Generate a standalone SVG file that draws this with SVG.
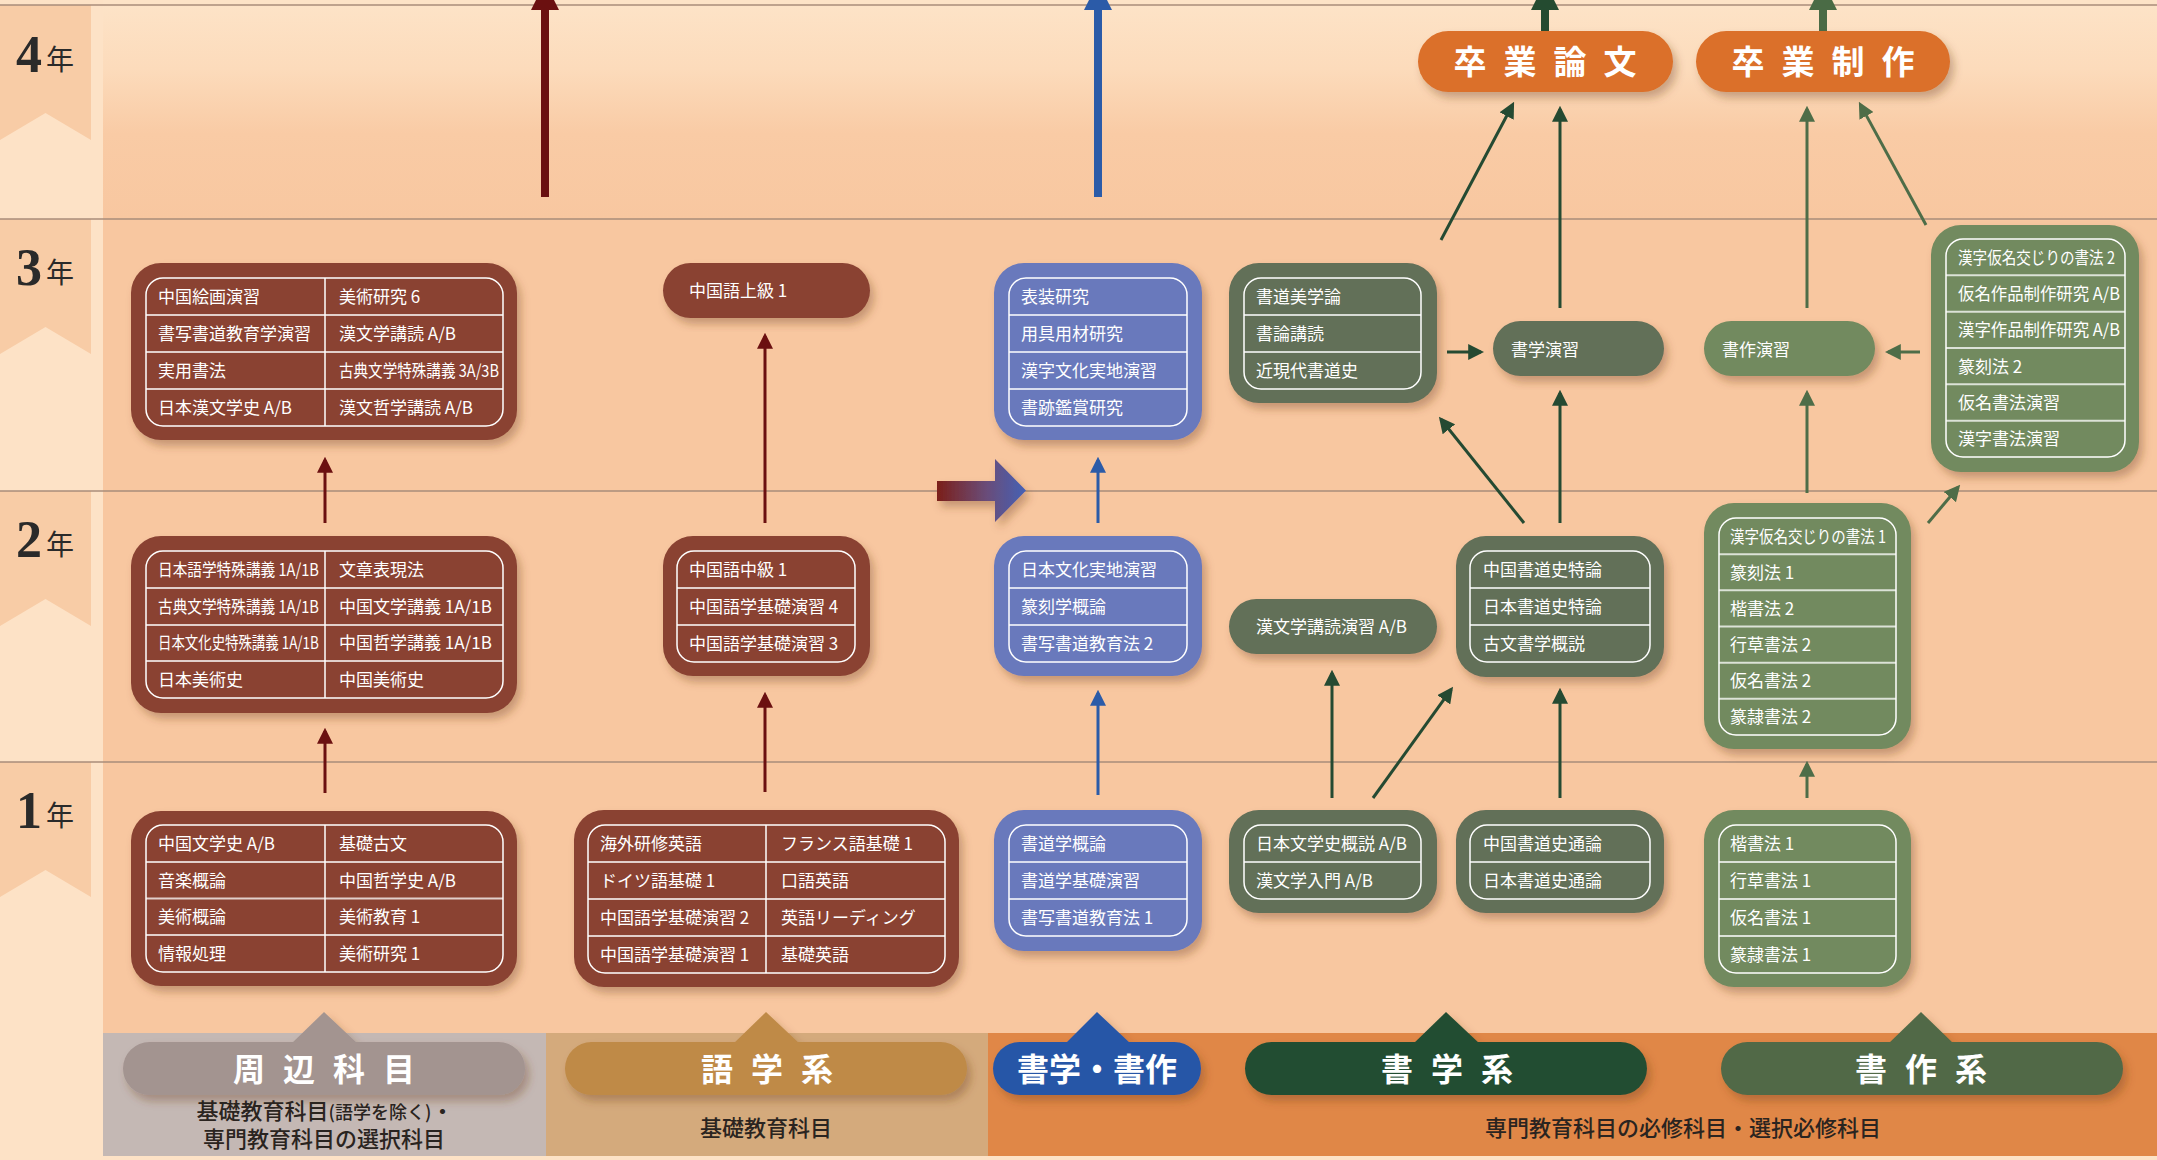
<svg xmlns="http://www.w3.org/2000/svg" width="2157" height="1160" viewBox="0 0 2157 1160">
<defs>
<style>
.t{font-family:"Noto Sans CJK JP","Noto Sans",sans-serif;font-size:17px;fill:#fff}
.inner{fill:none;stroke:#fff;stroke-width:1.5}
.dv{stroke:#fff;stroke-opacity:0.75;stroke-width:2}
.cv{stroke:#fff;stroke-width:1.5}
.brown{fill:#8A4233}
.blue{fill:#6979BC}
.dg{fill:#626F58}
.lg{fill:#728A5E}
.or{fill:#DB6F29}
.big{font-family:"Noto Sans CJK JP",sans-serif;font-weight:bold;fill:#fff;text-anchor:middle}
.sub{font-family:"Noto Sans CJK JP",sans-serif;font-size:22px;font-weight:500;fill:#2A2420;text-anchor:middle}
.yr{font-family:"Liberation Serif",serif;font-weight:bold;font-size:52px;fill:#2A2A2A}
.yk{font-family:"Noto Sans CJK JP",sans-serif;font-size:28px;fill:#2A2A2A}
.rule{stroke:#A88C7A;stroke-width:1.5}
.aR{stroke:#6B1010;stroke-width:3;fill:none;marker-end:url(#mR)}
.aB{stroke:#2B5BA8;stroke-width:3;fill:none;marker-end:url(#mB)}
.aG{stroke:#254A32;stroke-width:3;fill:none;marker-end:url(#mG)}
.aL{stroke:#4E6D48;stroke-width:3;fill:none;marker-end:url(#mL)}
</style>
<filter id="sh" x="-15%" y="-15%" width="135%" height="140%">
<feDropShadow dx="4" dy="6" stdDeviation="4" flood-color="#6a3a20" flood-opacity="0.35"/>
</filter>
<linearGradient id="g4" x1="0" y1="5" x2="0" y2="219" gradientUnits="userSpaceOnUse">
<stop offset="0" stop-color="#FDE3C7"/>
<stop offset="0.3" stop-color="#FCDBBB"/>
<stop offset="0.6" stop-color="#F9CBA5"/>
<stop offset="1" stop-color="#F8C7A0"/>
</linearGradient>
<linearGradient id="ga" x1="937" y1="0" x2="1026" y2="0" gradientUnits="userSpaceOnUse">
<stop offset="0" stop-color="#7B1F19"/>
<stop offset="0.55" stop-color="#6A4C78"/>
<stop offset="1" stop-color="#4561B5"/>
</linearGradient>
<marker id="mR" markerUnits="userSpaceOnUse" markerWidth="16" markerHeight="16" viewBox="0 0 15 15" refX="12" refY="7.5" orient="auto"><path d="M0,0 L15,7.5 L0,15 z" fill="#6B1010"/></marker>
<marker id="mB" markerUnits="userSpaceOnUse" markerWidth="16" markerHeight="16" viewBox="0 0 15 15" refX="12" refY="7.5" orient="auto"><path d="M0,0 L15,7.5 L0,15 z" fill="#2B5BA8"/></marker>
<marker id="mG" markerUnits="userSpaceOnUse" markerWidth="16" markerHeight="16" viewBox="0 0 15 15" refX="12" refY="7.5" orient="auto"><path d="M0,0 L15,7.5 L0,15 z" fill="#254A32"/></marker>
<marker id="mL" markerUnits="userSpaceOnUse" markerWidth="16" markerHeight="16" viewBox="0 0 15 15" refX="12" refY="7.5" orient="auto"><path d="M0,0 L15,7.5 L0,15 z" fill="#4E6D48"/></marker>
</defs>

<!-- background -->
<g id="background">
<rect x="0" y="0" width="2157" height="1160" fill="#FDE2C6"/>
<rect x="103" y="0" width="2054" height="1033" fill="#F8C7A0"/>
<rect x="103" y="0" width="2054" height="219" fill="url(#g4)"/>
<polygon points="0,5 91,5 91,140 45.5,113 0,140" fill="#F8CCA6"/>
<polygon points="0,219 91,219 91,354 45.5,327 0,354" fill="#F8CCA6"/>
<polygon points="0,491 91,491 91,626 45.5,599 0,626" fill="#F8CCA6"/>
<polygon points="0,762 91,762 91,897 45.5,870 0,897" fill="#F8CCA6"/>
<line class="rule" x1="0" y1="5" x2="2157" y2="5"/>
<line class="rule" x1="0" y1="219" x2="2157" y2="219"/>
<line class="rule" x1="0" y1="491" x2="2157" y2="491"/>
<line class="rule" x1="0" y1="762" x2="2157" y2="762"/>
<rect x="103" y="1033" width="443" height="123" fill="#C4B8B4"/>
<rect x="546" y="1033" width="442" height="123" fill="#D4AA7C"/>
<rect x="988" y="1033" width="1169" height="123" fill="#E08747"/>
<text class="yr" x="16" y="72">4</text><text class="yk" x="46" y="70">年</text>
<text class="yr" x="16" y="285">3</text><text class="yk" x="46" y="283">年</text>
<text class="yr" x="16" y="557">2</text><text class="yk" x="46" y="555">年</text>
<text class="yr" x="16" y="828">1</text><text class="yk" x="46" y="826">年</text>
</g>

<!-- connectors -->
<g id="connectors">
<line class="aR" x1="325" y1="793" x2="325" y2="731"/>
<line class="aR" x1="325" y1="523" x2="325" y2="460"/>
<line class="aR" x1="765" y1="792" x2="765" y2="695"/>
<line class="aR" x1="765" y1="523" x2="765" y2="336"/>
<line x1="545" y1="197" x2="545" y2="8" stroke="#6B1010" stroke-width="8"/>
<polygon points="531,10 559,10 545,-18" fill="#6B1010"/>
<line class="aB" x1="1098" y1="795" x2="1098" y2="693"/>
<line class="aB" x1="1098" y1="523" x2="1098" y2="460"/>
<line x1="1098" y1="197" x2="1098" y2="8" stroke="#2B5BA8" stroke-width="8"/>
<polygon points="1084,10 1112,10 1098,-18" fill="#2B5BA8"/>
<polygon points="937,481 995,481 995,459 1026,490.5 995,522 995,501 937,501" fill="url(#ga)" filter="url(#sh)"/>
<line class="aG" x1="1332" y1="798" x2="1332" y2="673"/>
<line class="aG" x1="1373" y1="798" x2="1451.2" y2="689.4"/>
<line class="aG" x1="1560" y1="798" x2="1560" y2="691"/>
<line class="aG" x1="1524" y1="523" x2="1440.9" y2="419.3"/>
<line class="aG" x1="1560" y1="523" x2="1560" y2="393"/>
<line class="aG" x1="1447" y1="352" x2="1481" y2="352" stroke-width="4"/>
<line class="aG" x1="1560" y1="308" x2="1560" y2="109"/>
<line class="aG" x1="1441" y1="240" x2="1512.6" y2="104.7"/>
<line x1="1545" y1="31" x2="1545" y2="8" stroke="#244B30" stroke-width="8"/>
<polygon points="1531,10 1559,10 1545,-18" fill="#244B30"/>
<line class="aL" x1="1807" y1="798" x2="1807" y2="764"/>
<line class="aL" x1="1928" y1="523" x2="1958.1" y2="487.3"/>
<line class="aL" x1="1807" y1="493" x2="1807" y2="393"/>
<line class="aL" x1="1920" y1="352" x2="1888" y2="352" stroke-width="4"/>
<line class="aL" x1="1807" y1="308" x2="1807" y2="109"/>
<line class="aL" x1="1926" y1="225" x2="1860.4" y2="104.6"/>
<line x1="1823" y1="31" x2="1823" y2="8" stroke="#4A6B45" stroke-width="8"/>
<polygon points="1809,10 1837,10 1823,-18" fill="#4A6B45"/>
</g>

<!-- 周辺 3年 -->
<g id="node-a3">
<rect x="131" y="263" width="386" height="177" rx="30" class="brown" filter="url(#sh)"/>
<rect x="146" y="278" width="357" height="148" rx="17" class="inner"/>
<line class="dv" x1="146" y1="315" x2="503" y2="315"/><line class="dv" x1="146" y1="352" x2="503" y2="352"/><line class="dv" x1="146" y1="389" x2="503" y2="389"/>
<line class="cv" x1="325" y1="278" x2="325" y2="426"/>
<text class="t" x="158" y="303">中国絵画演習</text><text class="t" x="339" y="303">美術研究 6</text>
<text class="t" x="158" y="340">書写書道教育学演習</text><text class="t" x="339" y="340">漢文学講読 A/B</text>
<text class="t" x="158" y="377">実用書法</text><text class="t" x="339" y="377" textLength="160" lengthAdjust="spacingAndGlyphs">古典文学特殊講義 3A/3B</text>
<text class="t" x="158" y="414">日本漢文学史 A/B</text><text class="t" x="339" y="414">漢文哲学講読 A/B</text>
</g>

<!-- 周辺 2年 -->
<g id="node-a2">
<rect x="131" y="536" width="386" height="177" rx="30" class="brown" filter="url(#sh)"/>
<rect x="146" y="551" width="357" height="147" rx="17" class="inner"/>
<line class="dv" x1="146" y1="588" x2="503" y2="588"/><line class="dv" x1="146" y1="625" x2="503" y2="625"/><line class="dv" x1="146" y1="661" x2="503" y2="661"/>
<line class="cv" x1="325" y1="551" x2="325" y2="698"/>
<text class="t" x="158" y="576" textLength="161" lengthAdjust="spacingAndGlyphs">日本語学特殊講義 1A/1B</text><text class="t" x="339" y="576">文章表現法</text>
<text class="t" x="158" y="613" textLength="161" lengthAdjust="spacingAndGlyphs">古典文学特殊講義 1A/1B</text><text class="t" x="339" y="613">中国文学講義 1A/1B</text>
<text class="t" x="0" y="0" transform="translate(158,649) scale(0.79,1)">日本文化史特殊講義 1A/1B</text><text class="t" x="339" y="649">中国哲学講義 1A/1B</text>
<text class="t" x="158" y="686">日本美術史</text><text class="t" x="339" y="686">中国美術史</text>
</g>

<!-- 周辺 1年 -->
<g id="node-a1">
<rect x="131" y="811" width="386" height="175" rx="30" class="brown" filter="url(#sh)"/>
<rect x="146" y="825" width="357" height="147" rx="17" class="inner"/>
<line class="dv" x1="146" y1="862" x2="503" y2="862"/><line class="dv" x1="146" y1="898.5" x2="503" y2="898.5"/><line class="dv" x1="146" y1="935" x2="503" y2="935"/>
<line class="cv" x1="325" y1="825" x2="325" y2="972"/>
<text class="t" x="158" y="850">中国文学史 A/B</text><text class="t" x="339" y="850">基礎古文</text>
<text class="t" x="158" y="887">音楽概論</text><text class="t" x="339" y="887">中国哲学史 A/B</text>
<text class="t" x="158" y="923">美術概論</text><text class="t" x="339" y="923">美術教育 1</text>
<text class="t" x="158" y="960">情報処理</text><text class="t" x="339" y="960">美術研究 1</text>
</g>

<!-- 語学 3年 -->
<g id="node-b3">
<rect x="663" y="263" width="207" height="55" rx="27.5" class="brown" filter="url(#sh)"/>
<text class="t" x="689" y="297">中国語上級 1</text>
</g>

<!-- 語学 2年 -->
<g id="node-b2">
<rect x="663" y="536" width="207" height="140" rx="30" class="brown" filter="url(#sh)"/>
<rect x="677" y="551" width="178" height="111" rx="17" class="inner"/>
<line class="dv" x1="677" y1="588" x2="855" y2="588"/><line class="dv" x1="677" y1="625" x2="855" y2="625"/>
<text class="t" x="689" y="576">中国語中級 1</text>
<text class="t" x="689" y="613">中国語学基礎演習 4</text>
<text class="t" x="689" y="650">中国語学基礎演習 3</text>
</g>

<!-- 語学 1年 -->
<g id="node-b1">
<rect x="574" y="810" width="385" height="177" rx="30" class="brown" filter="url(#sh)"/>
<rect x="588" y="825" width="357" height="148" rx="17" class="inner"/>
<line class="dv" x1="588" y1="862" x2="945" y2="862"/><line class="dv" x1="588" y1="899" x2="945" y2="899"/><line class="dv" x1="588" y1="936" x2="945" y2="936"/>
<line class="cv" x1="766" y1="825" x2="766" y2="973"/>
<text class="t" x="600" y="850">海外研修英語</text><text class="t" x="781" y="850">フランス語基礎 1</text>
<text class="t" x="600" y="887">ドイツ語基礎 1</text><text class="t" x="781" y="887">口語英語</text>
<text class="t" x="600" y="924">中国語学基礎演習 2</text><text class="t" x="781" y="924">英語リーディング</text>
<text class="t" x="600" y="961">中国語学基礎演習 1</text><text class="t" x="781" y="961">基礎英語</text>
</g>

<!-- 書学・書作 3年 -->
<g id="node-c3">
<rect x="994" y="263" width="208" height="177" rx="30" class="blue" filter="url(#sh)"/>
<rect x="1009" y="278" width="178" height="148" rx="17" class="inner"/>
<line class="dv" x1="1009" y1="315" x2="1187" y2="315"/><line class="dv" x1="1009" y1="352" x2="1187" y2="352"/><line class="dv" x1="1009" y1="389" x2="1187" y2="389"/>
<text class="t" x="1021" y="303">表装研究</text>
<text class="t" x="1021" y="340">用具用材研究</text>
<text class="t" x="1021" y="377">漢字文化実地演習</text>
<text class="t" x="1021" y="414">書跡鑑賞研究</text>
</g>

<!-- 書学・書作 2年 -->
<g id="node-c2">
<rect x="994" y="536" width="208" height="140" rx="30" class="blue" filter="url(#sh)"/>
<rect x="1009" y="551" width="178" height="111" rx="17" class="inner"/>
<line class="dv" x1="1009" y1="588" x2="1187" y2="588"/><line class="dv" x1="1009" y1="625" x2="1187" y2="625"/>
<text class="t" x="1021" y="576">日本文化実地演習</text>
<text class="t" x="1021" y="613">篆刻学概論</text>
<text class="t" x="1021" y="650">書写書道教育法 2</text>
</g>

<!-- 書学・書作 1年 -->
<g id="node-c1">
<rect x="994" y="810" width="208" height="141" rx="30" class="blue" filter="url(#sh)"/>
<rect x="1009" y="825" width="178" height="111" rx="17" class="inner"/>
<line class="dv" x1="1009" y1="862" x2="1187" y2="862"/><line class="dv" x1="1009" y1="899" x2="1187" y2="899"/>
<text class="t" x="1021" y="850">書道学概論</text>
<text class="t" x="1021" y="887">書道学基礎演習</text>
<text class="t" x="1021" y="924">書写書道教育法 1</text>
</g>

<!-- 書学系 3年 -->
<g id="node-d3">
<rect x="1229" y="263" width="208" height="140" rx="30" class="dg" filter="url(#sh)"/>
<rect x="1244" y="278" width="177" height="111" rx="17" class="inner"/>
<line class="dv" x1="1244" y1="315" x2="1421" y2="315"/><line class="dv" x1="1244" y1="352" x2="1421" y2="352"/>
<text class="t" x="1256" y="303">書道美学論</text>
<text class="t" x="1256" y="340">書論講読</text>
<text class="t" x="1256" y="377">近現代書道史</text>
</g>
<g id="node-shogaku-enshu">
<rect x="1493" y="321" width="171" height="55" rx="27.5" class="dg" filter="url(#sh)"/>
<text class="t" x="1511" y="356">書学演習</text>
</g>
<g id="node-shosaku-enshu">
<rect x="1704" y="321" width="171" height="55" rx="27.5" class="lg" filter="url(#sh)"/>
<text class="t" x="1722" y="356">書作演習</text>
</g>

<!-- 書学系 2年 -->
<g id="node-d2b">
<rect x="1229" y="599" width="208" height="55" rx="27.5" class="dg" filter="url(#sh)"/>
<text class="t" x="1256" y="633">漢文学講読演習 A/B</text>
</g>
<g id="node-d2">
<rect x="1456" y="536" width="208" height="141" rx="30" class="dg" filter="url(#sh)"/>
<rect x="1470" y="551" width="180" height="111" rx="17" class="inner"/>
<line class="dv" x1="1470" y1="588" x2="1650" y2="588"/><line class="dv" x1="1470" y1="625" x2="1650" y2="625"/>
<text class="t" x="1483" y="576">中国書道史特論</text>
<text class="t" x="1483" y="613">日本書道史特論</text>
<text class="t" x="1483" y="650">古文書学概説</text>
</g>

<!-- 書学系 1年 -->
<g id="node-d1a">
<rect x="1229" y="810" width="208" height="103" rx="30" class="dg" filter="url(#sh)"/>
<rect x="1244" y="825" width="177" height="74" rx="17" class="inner"/>
<line class="dv" x1="1244" y1="862" x2="1421" y2="862"/>
<text class="t" x="1256" y="850">日本文学史概説 A/B</text>
<text class="t" x="1256" y="887">漢文学入門 A/B</text>
</g>
<g id="node-d1b">
<rect x="1456" y="810" width="208" height="103" rx="30" class="dg" filter="url(#sh)"/>
<rect x="1470" y="825" width="180" height="74" rx="17" class="inner"/>
<line class="dv" x1="1470" y1="862" x2="1650" y2="862"/>
<text class="t" x="1483" y="850">中国書道史通論</text>
<text class="t" x="1483" y="887">日本書道史通論</text>
</g>

<!-- 書作系 3年 -->
<g id="node-e3">
<rect x="1931" y="225" width="208" height="247" rx="30" class="lg" filter="url(#sh)"/>
<rect x="1946" y="239" width="179" height="218" rx="17" class="inner"/>
<line class="dv" x1="1946" y1="275.3" x2="2125" y2="275.3"/><line class="dv" x1="1946" y1="311.7" x2="2125" y2="311.7"/><line class="dv" x1="1946" y1="348" x2="2125" y2="348"/><line class="dv" x1="1946" y1="384.3" x2="2125" y2="384.3"/><line class="dv" x1="1946" y1="420.7" x2="2125" y2="420.7"/>
<text class="t" x="1958" y="264" textLength="157" lengthAdjust="spacingAndGlyphs">漢字仮名交じりの書法 2</text>
<text class="t" x="1958" y="300" textLength="162" lengthAdjust="spacingAndGlyphs">仮名作品制作研究 A/B</text>
<text class="t" x="1958" y="336" textLength="162" lengthAdjust="spacingAndGlyphs">漢字作品制作研究 A/B</text>
<text class="t" x="1958" y="373">篆刻法 2</text>
<text class="t" x="1958" y="409">仮名書法演習</text>
<text class="t" x="1958" y="445">漢字書法演習</text>
</g>

<!-- 書作系 2年 -->
<g id="node-e2">
<rect x="1704" y="503" width="207" height="246" rx="30" class="lg" filter="url(#sh)"/>
<rect x="1719" y="518" width="177" height="217" rx="17" class="inner"/>
<line class="dv" x1="1719" y1="554.2" x2="1896" y2="554.2"/><line class="dv" x1="1719" y1="590.3" x2="1896" y2="590.3"/><line class="dv" x1="1719" y1="626.5" x2="1896" y2="626.5"/><line class="dv" x1="1719" y1="662.7" x2="1896" y2="662.7"/><line class="dv" x1="1719" y1="698.8" x2="1896" y2="698.8"/>
<text class="t" x="1730" y="543" textLength="156" lengthAdjust="spacingAndGlyphs">漢字仮名交じりの書法 1</text>
<text class="t" x="1730" y="579">篆刻法 1</text>
<text class="t" x="1730" y="615">楷書法 2</text>
<text class="t" x="1730" y="651">行草書法 2</text>
<text class="t" x="1730" y="687">仮名書法 2</text>
<text class="t" x="1730" y="723">篆隷書法 2</text>
</g>

<!-- 書作系 1年 -->
<g id="node-e1">
<rect x="1704" y="810" width="207" height="177" rx="30" class="lg" filter="url(#sh)"/>
<rect x="1719" y="825" width="177" height="148" rx="17" class="inner"/>
<line class="dv" x1="1719" y1="862" x2="1896" y2="862"/><line class="dv" x1="1719" y1="899" x2="1896" y2="899"/><line class="dv" x1="1719" y1="936" x2="1896" y2="936"/>
<text class="t" x="1730" y="850">楷書法 1</text>
<text class="t" x="1730" y="887">行草書法 1</text>
<text class="t" x="1730" y="924">仮名書法 1</text>
<text class="t" x="1730" y="961">篆隷書法 1</text>
</g>

<!-- 卒業 -->
<g id="node-sotsuron">
<rect x="1418" y="31" width="255" height="61" rx="30.5" class="or" filter="url(#sh)"/>
<text class="big" font-size="33" x="1470 1520 1570 1620" y="74">卒業論文</text>
</g>
<g id="node-sotsusaku">
<rect x="1696" y="31" width="254" height="61" rx="30.5" class="or" filter="url(#sh)"/>
<text class="big" font-size="33" x="1748 1798 1848 1898" y="74">卒業制作</text>
</g>

<!-- category labels -->
<g id="cat-shuhen">
<g filter="url(#sh)" fill="#A39490"><polygon points="291,1044 324,1012 358,1044"/><rect x="123" y="1042" width="402" height="53" rx="26.5"/></g>
<text class="big" font-size="32" x="249 299 349 399" y="1081">周辺科目</text>
<text class="sub" x="325" y="1119">基礎教育科目<tspan font-size="18">(語学を除く)</tspan>・</text>
<text class="sub" x="324" y="1147">専門教育科目の選択科目</text>
</g>
<g id="cat-gogaku">
<g filter="url(#sh)" fill="#BF8A47"><polygon points="733,1044 766,1012 800,1044"/><rect x="565" y="1042" width="402" height="53" rx="26.5"/></g>
<text class="big" font-size="32" x="717 767 817" y="1081">語学系</text>
<text class="sub" x="766" y="1136">基礎教育科目</text>
</g>
<g id="cat-shogaku-shosaku">
<g filter="url(#sh)" fill="#2757A7"><polygon points="1065,1044 1097,1012 1131,1044"/><rect x="993" y="1042" width="208" height="53" rx="26.5"/></g>
<text class="big" font-size="32" x="1097" y="1081">書学・書作</text>
</g>
<g id="cat-shogaku">
<g filter="url(#sh)" fill="#244E33"><polygon points="1413,1044 1446,1012 1480,1044"/><rect x="1245" y="1042" width="402" height="53" rx="26.5"/></g>
<text class="big" font-size="32" x="1397 1447 1497" y="1081">書学系</text>
</g>
<g id="cat-shosaku">
<g filter="url(#sh)" fill="#516946"><polygon points="1888,1044 1921,1012 1954,1044"/><rect x="1721" y="1042" width="402" height="53" rx="26.5"/></g>
<text class="big" font-size="32" x="1871 1921 1971" y="1081">書作系</text>
</g>
<text class="sub" x="1683" y="1136">専門教育科目の必修科目・選択必修科目</text>
</svg>
